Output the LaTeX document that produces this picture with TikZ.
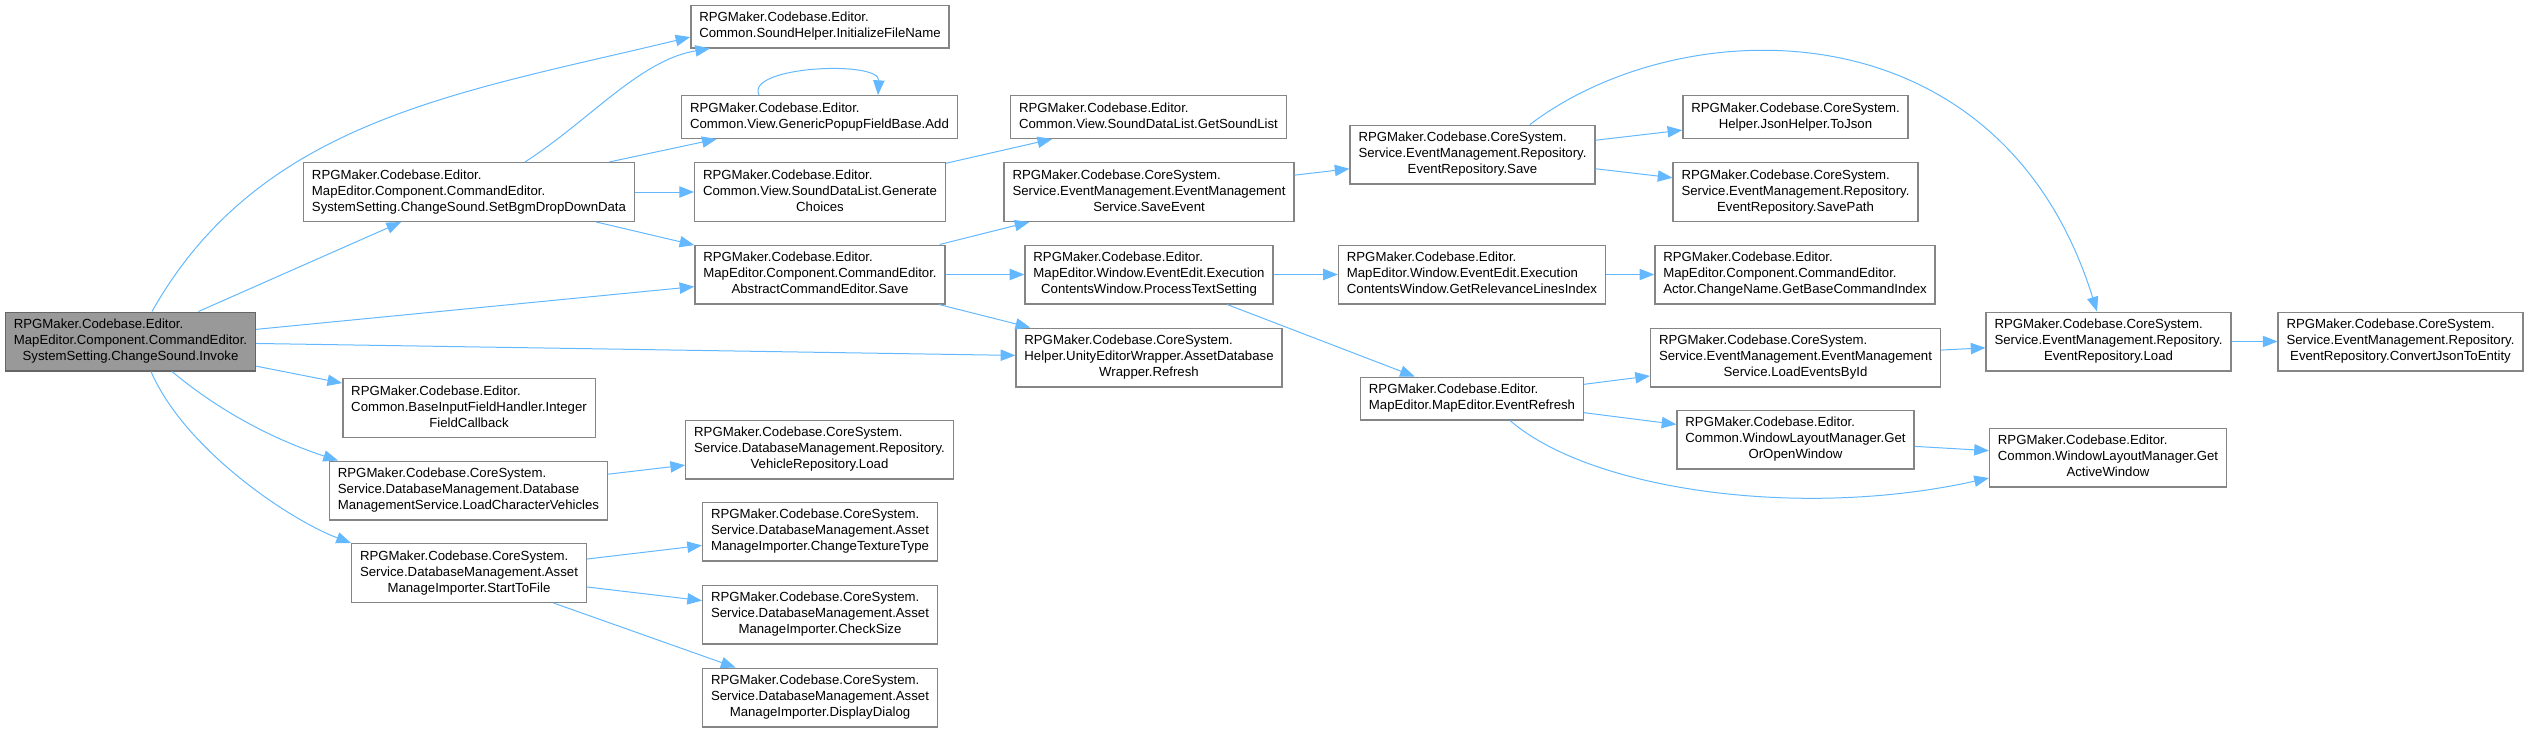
\documentclass[tikz,border=0pt]{standalone}
\usepackage{fontspec}
\setmainfont{Liberation Sans}
\usetikzlibrary{arrows.meta}
\definecolor{edgeblue}{HTML}{63B8FF}
\definecolor{boxline}{HTML}{858585}
\definecolor{rootfill}{HTML}{999999}
% left-aligned lines, last line centred (graphviz style)
\newcommand{\fnbox}[2]{\begin{tabular}{@{}l@{}}#1\\\multicolumn{1}{@{}c@{}}{#2}\end{tabular}}
\tikzset{
  fn/.style={draw=boxline, fill=white, line width=1pt, inner xsep=6.3pt,
             inner ysep=4pt, font=\fontsize{9.9}{12}\selectfont},
  root/.style={fn, draw=black!60, fill=rootfill},
  call/.style={draw=edgeblue, line width=0.75pt, -{Triangle[length=11pt,width=8.5pt]}}
}
\begin{document}
\begin{tikzpicture}[x=0.75pt,y=-0.75pt]
    \useasboundingbox (0,0) rectangle (2528,732);
    % ===== column 0: root =====
    \node[root] (invoke) at (130.5,341.5)
      {\fnbox{RPGMaker.Codebase.Editor.\\MapEditor.Component.CommandEditor.}{SystemSetting.ChangeSound.Invoke}};

    % ===== column 1 =====
    \node[fn] (setbgm) at (469,192)
      {\fnbox{RPGMaker.Codebase.Editor.\\MapEditor.Component.CommandEditor.}{SystemSetting.ChangeSound.SetBgmDropDownData}};
    \node[fn] (intcb) at (469,408)
      {\fnbox{RPGMaker.Codebase.Editor.\\Common.BaseInputFieldHandler.Integer}{FieldCallback}};
    \node[fn] (loadveh) at (468.5,490.5)
      {\fnbox{RPGMaker.Codebase.CoreSystem.\\Service.DatabaseManagement.Database}{ManagementService.LoadCharacterVehicles}};
    \node[fn] (starttofile) at (469,573)
      {\fnbox{RPGMaker.Codebase.CoreSystem.\\Service.DatabaseManagement.Asset}{ManageImporter.StartToFile}};

    % ===== column 2 =====
    \node[fn] (initname) at (820,26.5)
      {\fnbox{RPGMaker.Codebase.Editor.}{Common.SoundHelper.InitializeFileName}};
    \node[fn] (popadd) at (819.5,117)
      {\fnbox{RPGMaker.Codebase.Editor.}{Common.View.GenericPopupFieldBase.Add}};
    \node[fn] (genchoices) at (820,192)
      {\fnbox{RPGMaker.Codebase.Editor.\\Common.View.SoundDataList.Generate}{Choices}};
    \node[fn] (cmdsave) at (820,274.5)
      {\fnbox{RPGMaker.Codebase.Editor.\\MapEditor.Component.CommandEditor.}{AbstractCommandEditor.Save}};
    \node[fn] (vehload) at (819.5,449.5)
      {\fnbox{RPGMaker.Codebase.CoreSystem.\\Service.DatabaseManagement.Repository.}{VehicleRepository.Load}};
    \node[fn] (chgtex) at (820,531.5)
      {\fnbox{RPGMaker.Codebase.CoreSystem.\\Service.DatabaseManagement.Asset}{ManageImporter.ChangeTextureType}};
    \node[fn] (chksize) at (820,614.5)
      {\fnbox{RPGMaker.Codebase.CoreSystem.\\Service.DatabaseManagement.Asset}{ManageImporter.CheckSize}};
    \node[fn] (dispdlg) at (820,697.5)
      {\fnbox{RPGMaker.Codebase.CoreSystem.\\Service.DatabaseManagement.Asset}{ManageImporter.DisplayDialog}};

    % ===== column 3 =====
    \node[fn] (getsound) at (1148.5,117)
      {\fnbox{RPGMaker.Codebase.Editor.}{Common.View.SoundDataList.GetSoundList}};
    \node[fn] (saveevent) at (1149,192)
      {\fnbox{RPGMaker.Codebase.CoreSystem.\\Service.EventManagement.EventManagement}{Service.SaveEvent}};
    \node[fn] (proctext) at (1149,274.5)
      {\fnbox{RPGMaker.Codebase.Editor.\\MapEditor.Window.EventEdit.Execution}{ContentsWindow.ProcessTextSetting}};
    \node[fn] (refresh) at (1149,357.5)
      {\fnbox{RPGMaker.Codebase.CoreSystem.\\Helper.UnityEditorWrapper.AssetDatabase}{Wrapper.Refresh}};

    % ===== column 4 =====
    \node[fn] (evsave) at (1472.5,154.5)
      {\fnbox{RPGMaker.Codebase.CoreSystem.\\Service.EventManagement.Repository.}{EventRepository.Save}};
    \node[fn] (relidx) at (1472,274.5)
      {\fnbox{RPGMaker.Codebase.Editor.\\MapEditor.Window.EventEdit.Execution}{ContentsWindow.GetRelevanceLinesIndex}};
    \node[fn] (evrefresh) at (1472,398.5)
      {\fnbox{RPGMaker.Codebase.Editor.}{MapEditor.MapEditor.EventRefresh}};

    % ===== column 5 =====
    \node[fn] (tojson) at (1795.5,117)
      {\fnbox{RPGMaker.Codebase.CoreSystem.}{Helper.JsonHelper.ToJson}};
    \node[fn] (savepath) at (1795.5,192)
      {\fnbox{RPGMaker.Codebase.CoreSystem.\\Service.EventManagement.Repository.}{EventRepository.SavePath}};
    \node[fn] (baseidx) at (1795,274.5)
      {\fnbox{RPGMaker.Codebase.Editor.\\MapEditor.Component.CommandEditor.}{Actor.ChangeName.GetBaseCommandIndex}};
    \node[fn] (loadbyid) at (1795.5,357.5)
      {\fnbox{RPGMaker.Codebase.CoreSystem.\\Service.EventManagement.EventManagement}{Service.LoadEventsById}};
    \node[fn] (getopen) at (1795.5,439.5)
      {\fnbox{RPGMaker.Codebase.Editor.\\Common.WindowLayoutManager.Get}{OrOpenWindow}};

    % ===== columns 6 and 7 =====
    \node[fn] (evload) at (2108.5,341.5)
      {\fnbox{RPGMaker.Codebase.CoreSystem.\\Service.EventManagement.Repository.}{EventRepository.Load}};
    \node[fn] (activewin) at (2108,457.5)
      {\fnbox{RPGMaker.Codebase.Editor.\\Common.WindowLayoutManager.Get}{ActiveWindow}};
    \node[fn] (convert) at (2400.5,341.5)
      {\fnbox{RPGMaker.Codebase.CoreSystem.\\Service.EventManagement.Repository.}{EventRepository.ConvertJsonToEntity}};

    % ===== calls from the root =====
    \draw[call] (152,0 |- invoke.north) .. controls (260,120) and (458,93) .. (initname.west |- 0,37);
    \draw[call] (invoke) -- (setbgm);
    \draw[call] (invoke) -- (cmdsave);
    \draw[call] (invoke) -- (refresh);
    \draw[call] (invoke) -- (intcb);
    \draw[call] (172,0 |- invoke.south) .. controls (230,420) and (290,445) .. (338,0 |- loadveh.north);
    \draw[call] (151,0 |- invoke.south) .. controls (185,450) and (290,520) .. (starttofile.north west);

    % ===== calls one level down =====
    \draw[call] (525,0 |- setbgm.north) .. controls (590,120) and (640,60) .. (710,0 |- initname.south);
    \draw[call] (setbgm) -- (popadd);
    \draw[call] (setbgm) -- (genchoices);
    \draw[call] (setbgm) -- (cmdsave);
    \draw[call] (759,0 |- popadd.north) .. controls (745,66) and (880,60) .. (878,0 |- popadd.north);
    \draw[call] (loadveh) -- (vehload);
    \draw[call] (starttofile) -- (chgtex);
    \draw[call] (starttofile) -- (chksize);
    \draw[call] (starttofile) -- (dispdlg);
    \draw[call] (genchoices) -- (getsound);
    \draw[call] (cmdsave) -- (saveevent);
    \draw[call] (cmdsave) -- (proctext);
    \draw[call] (cmdsave) -- (refresh);

    % ===== event side =====
    \draw[call] (saveevent) -- (evsave);
    \draw[call] (evsave) -- (tojson);
    \draw[call] (evsave) -- (savepath);
    \draw[call] (1530,0 |- evsave.north) .. controls (1680,10) and (2000,0) .. (2097,0 |- evload.north);
    \draw[call] (proctext) -- (relidx);
    \draw[call] (proctext) -- (evrefresh);
    \draw[call] (relidx) -- (baseidx);
    \draw[call] (evrefresh) -- (loadbyid);
    \draw[call] (evrefresh) -- (getopen);
    \draw[call] (1510,0 |- evrefresh.south) .. controls (1590,490) and (1800,520) .. (activewin.west |- 0,478);
    \draw[call] (loadbyid) -- (evload);
    \draw[call] (getopen) -- (activewin);
    \draw[call] (evload) -- (convert);
  \end{tikzpicture}
\end{document}
